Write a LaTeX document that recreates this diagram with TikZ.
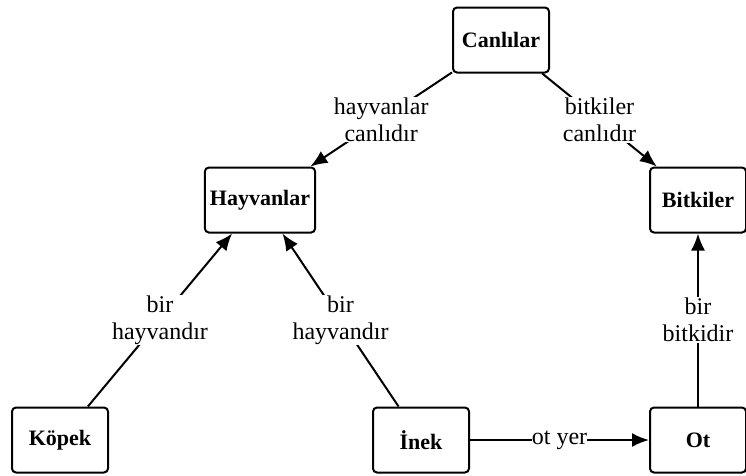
\documentclass[tikz,border=0pt]{standalone}
\usepackage{fontspec}
\setmainfont{Liberation Serif}
\usepackage{tikz}
\usetikzlibrary{arrows.meta, positioning}
\tikzstyle{concept} = [rectangle, rounded corners=4pt, minimum width=96pt, minimum height=65pt, inner sep=5pt, text centered, draw=black, line width=2pt, font=\fontsize{22}{26}\selectfont\bfseries]
\tikzstyle{arrow} = [line width=2pt, black, -{Latex[length=17pt,width=14pt]}]
\tikzstyle{rel} = [fill=white, inner sep=1pt, align=center, font=\fontsize{24}{27}\selectfont]

\begin{document}
\begin{tikzpicture}[x=1pt, y=-1pt]
    \useasboundingbox (0,0) rectangle (746,475);
    \node[concept] (canlilar) at (501,40) {Canlılar};
    \node[concept] (hayvanlar) at (260,200) {Hayvanlar};
    \node[concept] (bitkiler) at (698,200) {Bitkiler};
    \node[concept] (kopek) at (60,440) {Köpek};
    \node[concept] (inek) at (421,440) {İnek};
    \node[concept] (ot) at (698,440) {Ot};

    \draw[arrow] (canlilar) -- node[rel] {hayvanlar\\canlıdır} (hayvanlar);
    \draw[arrow] (canlilar) -- node[rel] {bitkiler\\canlıdır} (bitkiler);
    \draw[arrow] (kopek) -- node[rel] {bir\\hayvandır} (hayvanlar);
    \draw[arrow] (inek) -- node[rel] {bir\\hayvandır} (hayvanlar);
    \draw[arrow] (ot) -- node[rel] {bir\\bitkidir} (bitkiler);
    \draw[arrow] (inek) -- node[rel, inner sep=0pt] {ot yer} (ot);
\end{tikzpicture}
\end{document}
